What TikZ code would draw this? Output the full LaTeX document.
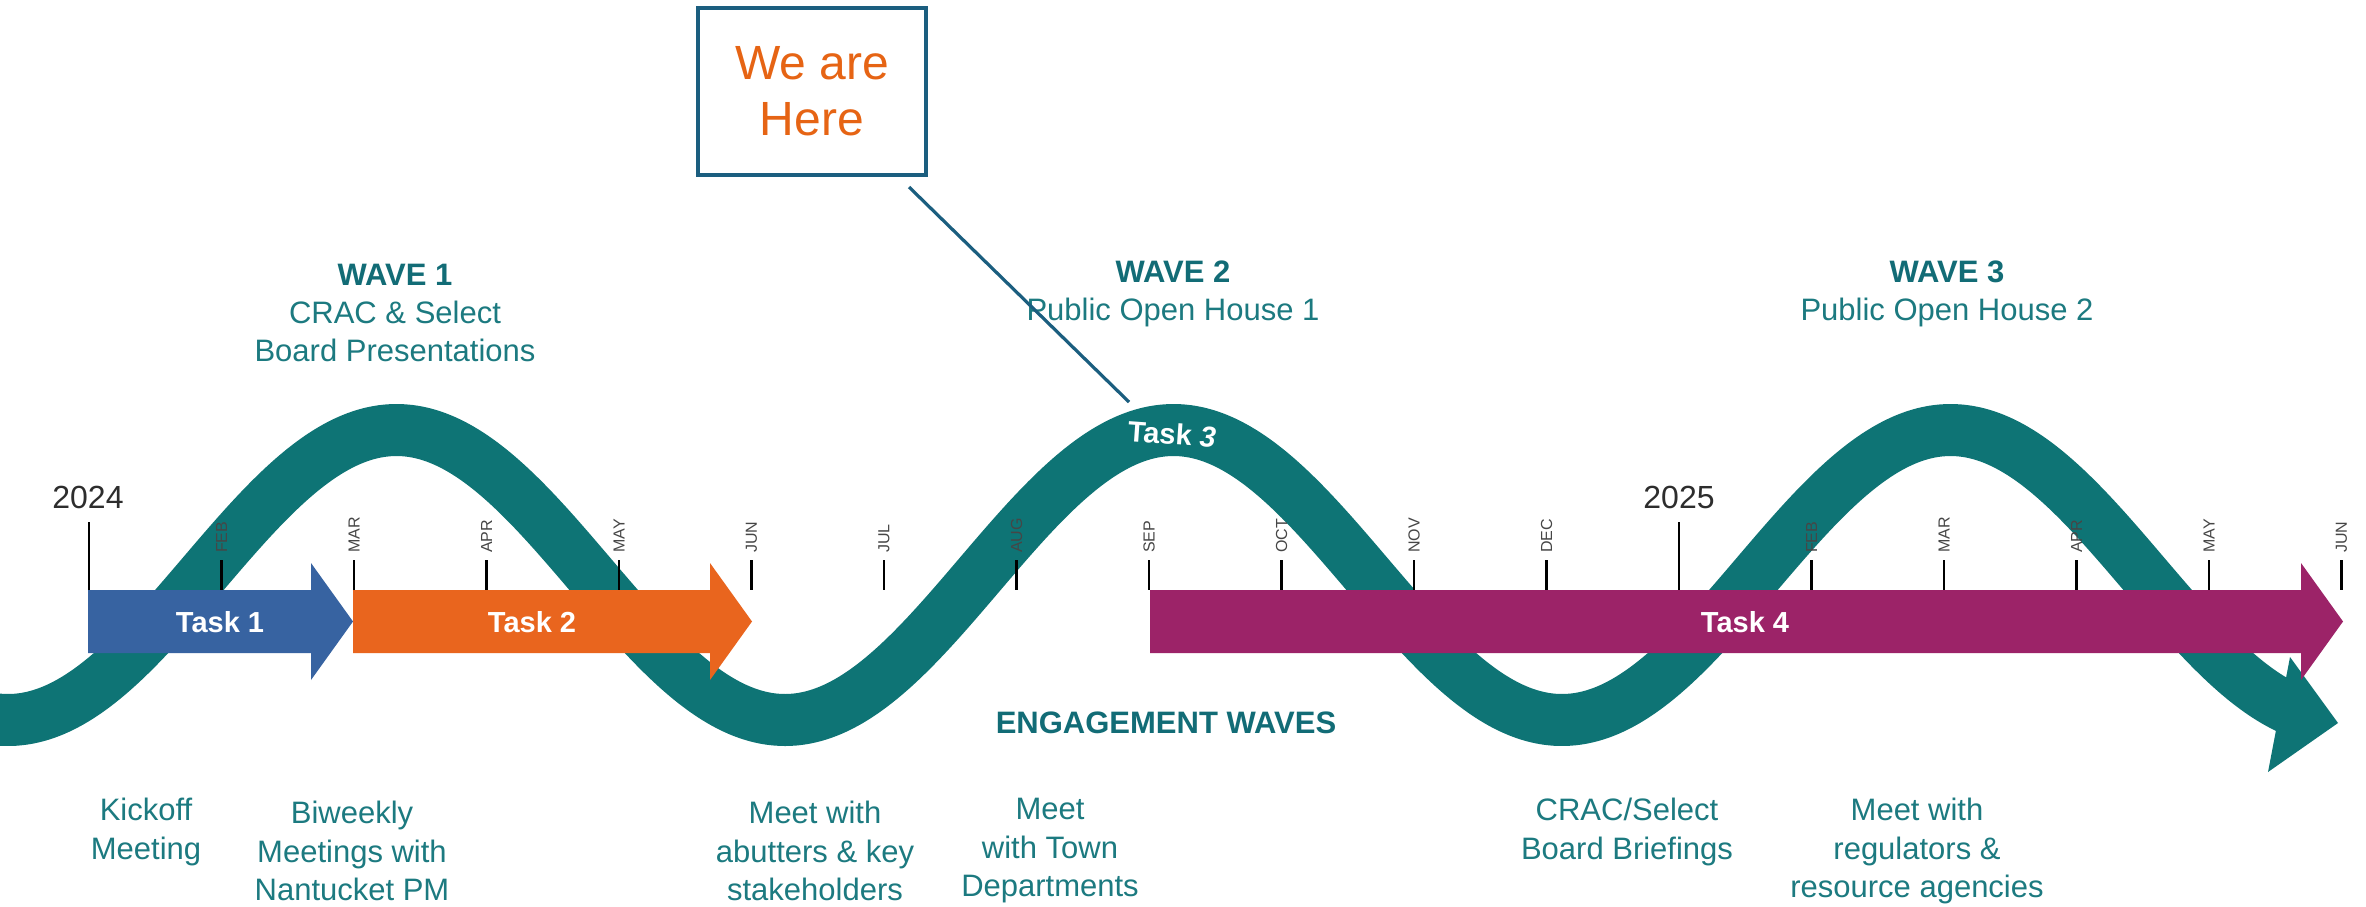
\documentclass[tikz,border=0pt]{standalone}
\usepackage{fontspec}
\setmainfont{Liberation Sans}
\definecolor{wavecol}{RGB}{14,116,117}
\definecolor{tealtxt}{RGB}{28,122,128}
\definecolor{tealbold}{RGB}{18,108,118}
\definecolor{taskblue}{RGB}{55,99,161}
\definecolor{taskorange}{RGB}{233,101,30}
\definecolor{taskmag}{RGB}{156,35,104}
\definecolor{boxblue}{RGB}{27,94,127}
\definecolor{hereorange}{RGB}{230,100,20}
\definecolor{monthgray}{RGB}{70,70,70}
\definecolor{yeargray}{RGB}{45,45,45}
\newcommand{\taskarrow}[3]{\fill[#3] (#1,590) -- ({#2-42},590) -- ({#2-42},563) -- (#2,621.5) -- ({#2-42},680) -- ({#2-42},653) -- (#1,653) -- cycle;}
\begin{document}
\begin{tikzpicture}[x=1pt,y=-1pt,
  wavetitle/.style={text=tealtxt, align=center, inner sep=0, font=\fontsize{31}{38}\selectfont},
  bottomtxt/.style={text=tealtxt, align=center, inner sep=0, font=\fontsize{31}{38.5}\selectfont},
  tasklbl/.style={text=white, inner sep=0, font=\bfseries\fontsize{29}{34}\selectfont},
  monthlbl/.style={text=monthgray, rotate=90, anchor=west, inner sep=0, font=\fontsize{16}{18}\selectfont},
  yearlbl/.style={text=yeargray, inner sep=0, font=\fontsize{32}{36}\selectfont},
  tickline/.style={black, line width=2.6},
  wavestroke/.style={wavecol, line width=52}]
\useasboundingbox[fill=white] (0,0) rectangle (2366,906);

% engagement wave
\draw[wavestroke] plot[domain=-30:2290, samples=260, smooth] (\x,{575+145*cos(((\x-8)/777)*360)});
\fill[wavecol] (2290,657) -- (2338,723) -- (2268,772) -- cycle;

% ticks and month labels
\foreach \k/\m in {1/FEB,2/MAR,3/APR,4/MAY,5/JUN,6/JUL,7/AUG,8/SEP,9/OCT,10/NOV,11/DEC,13/FEB,14/MAR,15/APR,16/MAY,17/JUN}{
  \draw[tickline] ({89+132.5*\k},560) -- ({89+132.5*\k},590);
  \node[monthlbl] at ({89+132.5*\k},553) {\m};
}
\draw[tickline] (89,522) -- (89,590);
\draw[tickline] ({89+132.5*12},522) -- ({89+132.5*12},590);
\node[yearlbl] (y2024) at (88,497) {2024};
\node[yearlbl] (y2025) at (1679,497) {2025};

% task arrows
\taskarrow{88}{353}{taskblue}
\taskarrow{353}{752}{taskorange}
\taskarrow{1150}{2343}{taskmag}
\node[tasklbl] (task1) at (220,622) {Task 1};
\node[tasklbl] (task2) at (532,622) {Task 2};
\node[tasklbl] (task4) at (1745,622) {Task 4};
\node[tasklbl, rotate=-4] (task3) at (1172,434) {Task \textit{3}};

% wave titles
\node[wavetitle] (w1) at (395,313) {\textbf{\color{tealbold}WAVE 1}\\CRAC \& Select\\Board Presentations};
\node[wavetitle] (w2) at (1173,294) {\textbf{\color{tealbold}WAVE 2}\\Public Open House 1};
\node[wavetitle] (w3) at (1947,294) {\textbf{\color{tealbold}WAVE 3}\\Public Open House 2};
\node[text=tealbold, inner sep=0, font=\bfseries\fontsize{31}{36}\selectfont] (eng) at (1166,723) {ENGAGEMENT WAVES};

% bottom notes
\node[bottomtxt] (b1) at (146,832) {Kickoff\\Meeting};
\node[bottomtxt] (b2) at (352,851) {Biweekly\\Meetings with\\Nantucket PM};
\node[bottomtxt] (b3) at (815,851) {Meet with\\abutters \& key\\stakeholders};
\node[bottomtxt] (b4) at (1050,851) {Meet\\with Town\\Departments};
\node[bottomtxt] (b5) at (1627,832) {CRAC/Select\\Board Briefings};
\node[bottomtxt] (b6) at (1917,851) {Meet with\\regulators \&\\resource agencies};

% we are here callout
\node[draw=boxblue, line width=3.5, minimum width=228, minimum height=167, inner sep=0,
      text=hereorange, align=center, font=\fontsize{48}{56}\selectfont] (here) at (812,91.5) {We are\\Here};
\coordinate (ptrA) at (909,187);
\coordinate (ptrB) at (1129,402);
\draw[boxblue, line width=3.2] (ptrA) -- (ptrB);
\end{tikzpicture}
\end{document}
